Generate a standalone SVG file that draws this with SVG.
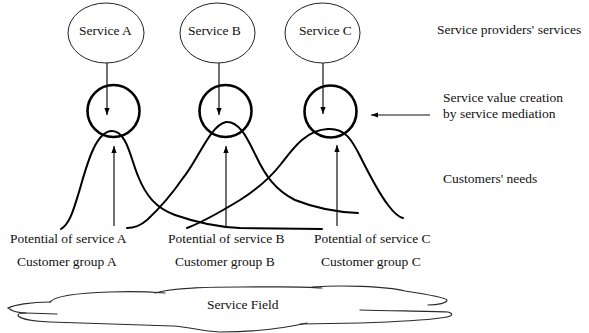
<svg xmlns="http://www.w3.org/2000/svg" width="589" height="333" viewBox="0 0 589 333">
  <style>
    text { font-family: "Liberation Serif", "Times New Roman", serif; font-size: 13.5px; fill: #111; }
    .oval { fill: none; stroke: #222; stroke-width: 1; }
    .hub { fill: none; stroke: #000; stroke-width: 2.6; }
    .need { fill: none; stroke: #000; stroke-width: 2; stroke-linecap: round; }
    .link { fill: none; stroke: #111; stroke-width: 1.2; }
    .cloud { fill: none; stroke: #2a2a2a; stroke-width: 1.2; stroke-linecap: round; }
  </style>
  <defs>
    <marker id="head" viewBox="0 0 7 6" refX="7" refY="3" markerWidth="7" markerHeight="6" markerUnits="userSpaceOnUse" orient="auto">
      <path d="M0,0.4 L7,3 L0,5.6 z" fill="#000"/>
    </marker>
  </defs>

  <rect width="589" height="333" fill="#fff"/>

  <!-- provider services -->
  <g id="service-a">
    <ellipse class="oval" cx="106" cy="33" rx="38" ry="30"/>
    <text x="79" y="35">Service A</text>
  </g>
  <g id="service-b">
    <ellipse class="oval" cx="217.5" cy="33" rx="37.5" ry="30"/>
    <text x="188" y="35">Service B</text>
  </g>
  <g id="service-c">
    <ellipse class="oval" cx="322.5" cy="33" rx="37.5" ry="30"/>
    <text x="299" y="35">Service C</text>
  </g>

  <!-- mediation points -->
  <g id="mediation-a"><circle class="hub" cx="113.5" cy="111" r="26"/></g>
  <g id="mediation-b"><circle class="hub" cx="225.5" cy="111" r="26"/></g>
  <g id="mediation-c"><circle class="hub" cx="330.5" cy="111.5" r="26"/></g>

  <!-- customer need curves -->
  <g id="needs-a">
    <path class="need" d="M61,229 C70,224 74,208 79,192 C86,168 95,131 112,131 C127,131 131,160 138,176 C146,196 156,208 175,215 C195,222 215,227 240,228 L322,229"/>
  </g>
  <g id="needs-b">
    <path class="need" d="M127,228 C135,228 140,226 147,220 C160,208 172,194 183,178 C197,162 210,125 226,122 C240,121 248,140 256,156 C265,175 275,190 295,200 C315,208 335,212 358,213"/>
  </g>
  <g id="needs-c">
    <path class="need" d="M187,228 C200,223 222,211 240,200 C256,190 270,178 281,164 C292,150 305,130 328,129 C345,128 352,140 360,156 C368,172 378,192 388,205 C394,213 398,217 403,218"/>
  </g>

  <!-- arrows -->
  <g id="connectors">
    <line class="link" x1="107" y1="63" x2="107" y2="115" marker-end="url(#head)"/>
    <line class="link" x1="219" y1="63" x2="219" y2="115" marker-end="url(#head)"/>
    <line class="link" x1="323" y1="63" x2="323" y2="114" marker-end="url(#head)"/>
    <line class="link" x1="114" y1="226" x2="114" y2="146" marker-end="url(#head)"/>
    <line class="link" x1="226" y1="226" x2="226" y2="146" marker-end="url(#head)"/>
    <line class="link" x1="337" y1="226" x2="337" y2="145" marker-end="url(#head)"/>
    <line class="link" x1="430" y1="115" x2="371" y2="115" marker-end="url(#head)"/>
  </g>

  <!-- side captions -->
  <g id="captions">
    <text x="437" y="34">Service providers' services</text>
    <text x="443" y="102">Service value creation</text>
    <text x="443" y="118">by service mediation</text>
    <text x="443" y="183">Customers' needs</text>
  </g>

  <!-- customer groups -->
  <g id="group-a">
    <text x="10" y="243">Potential of service A</text>
    <text x="17" y="266">Customer group A</text>
  </g>
  <g id="group-b">
    <text x="168" y="243">Potential of service B</text>
    <text x="175" y="266">Customer group B</text>
  </g>
  <g id="group-c">
    <text x="314" y="243">Potential of service C</text>
    <text x="321" y="266">Customer group C</text>
  </g>

  <!-- service field cloud -->
  <g id="service-field">
    <path class="cloud" d="M50,302 C55,296 75,293 110,292 C135,291 152,292 165,293"/>
    <path class="cloud" d="M155,293 C170,289 190,287 240,287 C275,287 300,286 322,288"/>
    <path class="cloud" d="M312,287 C340,285 385,286 405,291 C425,294 445,297 447,300 C447,303 438,305 428,305"/>
    <path class="cloud" d="M360,310 C390,311 425,311 448,312 C455,314 452,317 440,318 C420,321 390,322 360,323 L300,324"/>
    <path class="cloud" d="M307,323 C285,328 255,332 220,332 C200,331 190,327 173,326 C150,325 100,324 50,322 C30,321 18,318 18,315 C18,313 22,313 26,313"/>
    <path class="cloud" d="M50,302 C30,302 14,305 8,308 C12,311 18,313 26,313 L57,314"/>
    <text x="207" y="309">Service Field</text>
  </g>
</svg>
